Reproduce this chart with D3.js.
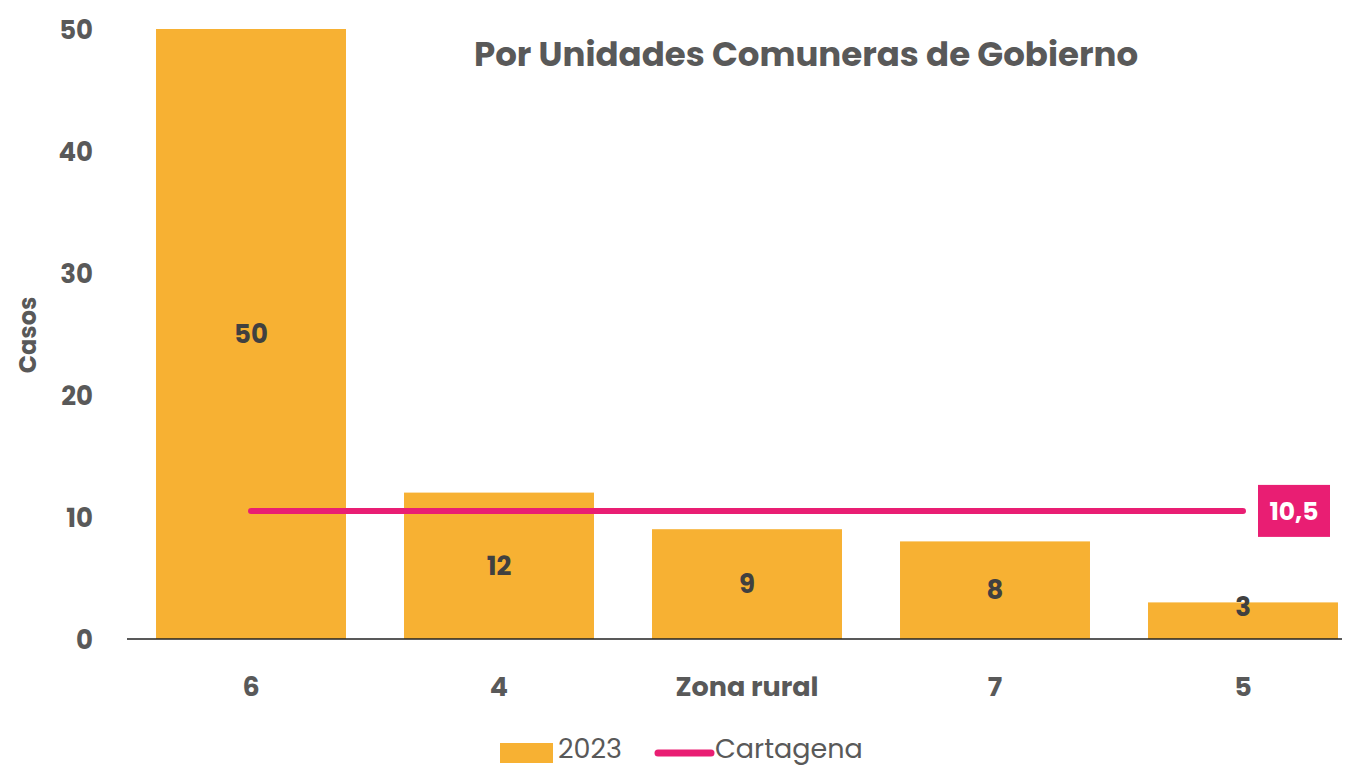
<!DOCTYPE html>
<html><head><meta charset="utf-8">
<script src="https://cdn.jsdelivr.net/npm/d3@7"></script>
<style>body{margin:0;background:#fff}svg{display:block;font-family:Poppins,Inter,"Open Sans",sans-serif}</style>
</head><body><svg id="c" width="1355" height="767"></svg>
<script>
const categories = ["6", "4", "Zona rural", "7", "5"];
const values2023 = [50, 12, 9, 8, 3];
const cartagenaValue = 10.5;
const cartagenaLabel = "10,5";
const yTicks = [0, 10, 20, 30, 40, 50];
const title = "Por Unidades Comuneras de Gobierno";
const yTitle = "Casos";
const legendLabels = ["2023", "Cartagena"];

const FONT = 'Poppins, Inter, "Open Sans", sans-serif';
const svg = d3.select("#c");
const txt = "#595959", barC = "#F7B133", lineC = "#E91E73";
const x = d3.scaleBand().domain(categories).range([127, 1367]).paddingInner(0.234).paddingOuter(0.117);
const y = d3.scaleLinear().domain([0, 50]).range([639, 29]);

svg.selectAll("rect.bar").data(values2023).join("rect").attr("class","bar")
  .attr("x",(d,i)=>x(categories[i])).attr("width",x.bandwidth())
  .attr("y",d=>y(d)).attr("height",d=>y(0)-y(d)).attr("fill",barC);

// baseline
svg.append("line").attr("x1",127).attr("x2",1342).attr("y1",y(0)).attr("y2",y(0)).attr("stroke","#222").attr("stroke-width",1.5);

// y ticks
const ya = svg.append("g").attr("transform","translate(93,0)").call(d3.axisLeft(y).tickValues(yTicks).tickSize(0).tickPadding(0));
ya.attr("font-family",FONT).attr("font-size",26);
ya.select(".domain").remove();
ya.selectAll("text").attr("font-weight",700).attr("fill",txt).attr("dy","0.35em");

// x labels
const xa = svg.append("g").attr("transform",`translate(0,${y(0)})`).call(d3.axisBottom(x).tickSize(0).tickPadding(0));
xa.attr("font-family",FONT).attr("font-size",27);
xa.select(".domain").remove();
xa.selectAll("text").attr("font-weight",700).attr("fill",txt).attr("dy",null).attr("y",57);

// value labels
svg.selectAll("text.val").data(values2023).join("text").attr("class","val")
  .attr("x",(d,i)=>x(categories[i])+x.bandwidth()/2)
  .attr("y",d=>Math.min((y(d)+y(0))/2, y(0)-32)+9)
  .attr("text-anchor","middle").attr("font-size",26).attr("font-weight",700).attr("fill","#404040").text(d=>d);

// Cartagena line
const x0 = x(categories[0])+x.bandwidth()/2, x1 = x(categories[categories.length-1])+x.bandwidth()/2;
svg.append("line").attr("x1",x0).attr("x2",x1).attr("y1",y(cartagenaValue)).attr("y2",y(cartagenaValue))
  .attr("stroke",lineC).attr("stroke-width",6).attr("stroke-linecap","round");
svg.append("rect").attr("x",x1+15).attr("y",y(cartagenaValue)-26).attr("width",72).attr("height",52).attr("fill",lineC);
svg.append("text").attr("x",x1+51).attr("y",y(cartagenaValue)+9).attr("text-anchor","middle")
  .attr("font-size",25).attr("font-weight",700).attr("fill","#fff").text(cartagenaLabel);

// title
svg.append("text").attr("x",806).attr("y",66).attr("text-anchor","middle").attr("font-size",34).attr("font-weight",700).attr("fill",txt).text(title);

// y title
svg.append("text").attr("transform","translate(36,335) rotate(-90)").attr("text-anchor","middle").attr("font-size",24).attr("font-weight",700).attr("fill",txt).text(yTitle);

// legend
svg.append("rect").attr("x",500).attr("y",743).attr("width",53).attr("height",20).attr("fill",barC);
svg.append("text").attr("x",558).attr("y",758).attr("font-size",27).attr("fill",txt).text(legendLabels[0]);
svg.append("line").attr("x1",658).attr("x2",711).attr("y1",753).attr("y2",753).attr("stroke",lineC).attr("stroke-width",7).attr("stroke-linecap","round");
svg.append("text").attr("x",715).attr("y",758).attr("font-size",27).attr("fill",txt).text(legendLabels[1]);
</script></body></html>
